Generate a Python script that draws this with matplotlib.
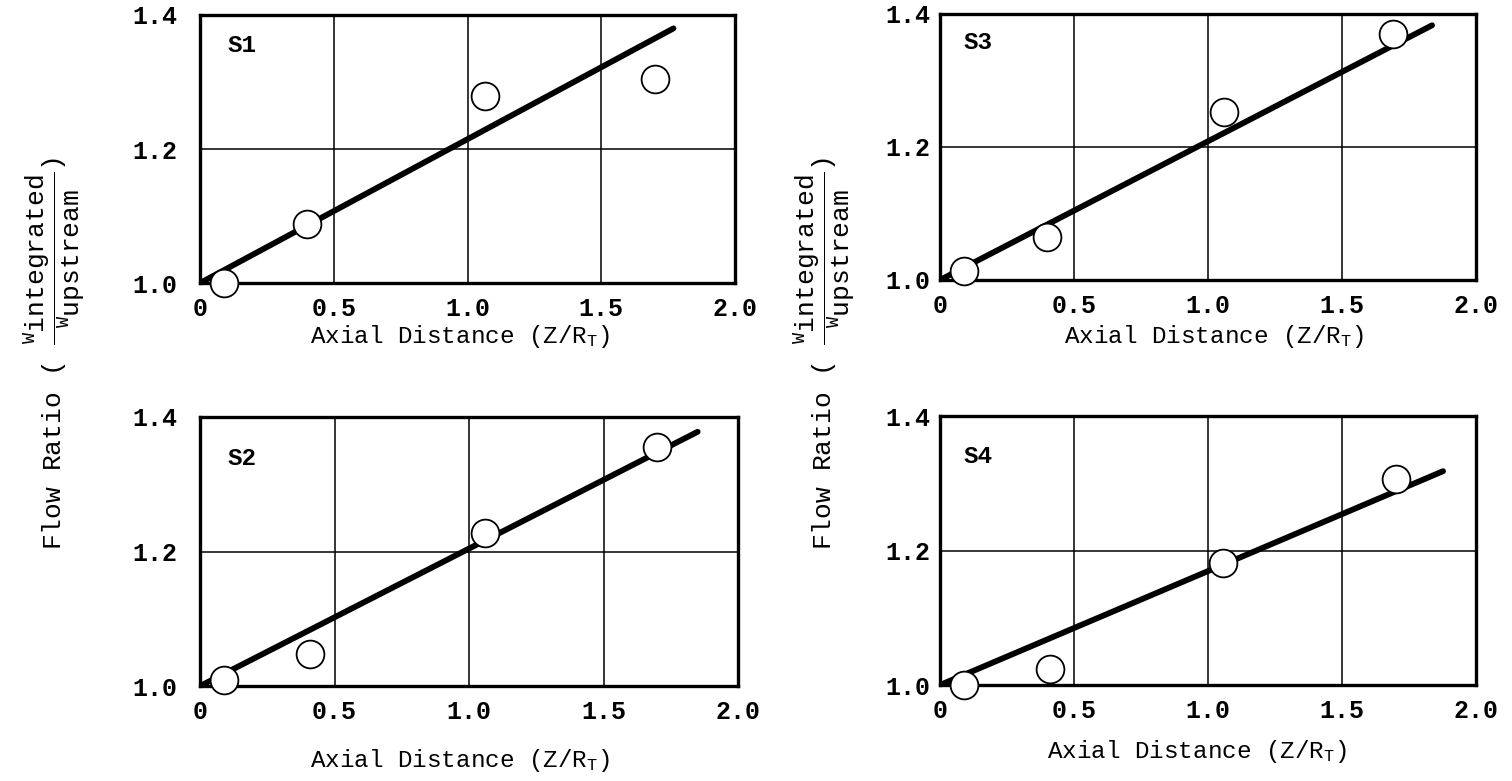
import numpy as np
import matplotlib
matplotlib.use('Agg')
import matplotlib.pyplot as plt

plt.rcParams['font.family'] = ['Liberation Mono', 'DejaVu Sans Mono']
plt.rcParams['mathtext.fontset'] = 'custom'
plt.rcParams['mathtext.rm'] = 'Liberation Mono'
plt.rcParams['mathtext.tt'] = 'Liberation Mono'
plt.rcParams['mathtext.it'] = 'Liberation Mono'

# measured points (axial distance Z/R_T, flow ratio)
names = ['S1', 'S2', 'S3', 'S4']
x_s1 = [0.09, 0.40, 1.065, 1.70]
y_s1 = [1.000, 1.088, 1.279, 1.304]
x_s2 = [0.09, 0.41, 1.06, 1.70]
y_s2 = [1.009, 1.048, 1.228, 1.355]
x_s3 = [0.09, 0.40, 1.06, 1.69]
y_s3 = [1.013, 1.065, 1.253, 1.370]
x_s4 = [0.09, 0.41, 1.056, 1.70]
y_s4 = [1.000, 1.024, 1.181, 1.306]

# fitted straight lines (end points)
fit_x = [[0, 1.77], [0, 1.85], [0, 1.836], [0, 1.877]]
fit_y = [[1.0, 1.38], [1.0, 1.378], [1.0, 1.383], [1.0, 1.318]]

x_ticks = [0, 0.5, 1.0, 1.5, 2.0]
x_ticklabels = ['0', '0.5', '1.0', '1.5', '2.0']
y_ticks = [1.0, 1.2, 1.4]
y_ticklabels = ['1.0', '1.2', '1.4']

xs = [x_s1, x_s2, x_s3, x_s4]
ys = [y_s1, y_s2, y_s3, y_s4]

# axes rectangles in figure fraction
rects = [[0.1323, 0.6376, 0.3538, 0.3432],
         [0.1323, 0.1216, 0.3558, 0.3445],
         [0.6217, 0.6415, 0.3545, 0.3406],
         [0.6217, 0.1229, 0.3545, 0.3444]]
ypads = [16.5, 16.5, 7, 7]
xlab_pos = [(0.486, -0.20), (0.483, -0.275), (0.511, -0.214), (0.48, -0.249)]
name_pos = [(0.052, 0.888), (0.052, 0.844), (0.043, 0.891), (0.043, 0.848)]

fig = plt.figure(figsize=(15.12, 7.81), dpi=100)

for i in range(4):
    ax = fig.add_axes(rects[i])
    ax.set_xlim(0, 2.0)
    ax.set_ylim(1.0, 1.4)
    ax.set_xticks(x_ticks)
    ax.set_xticklabels(x_ticklabels)
    ax.set_yticks(y_ticks)
    ax.set_yticklabels(y_ticklabels)
    ax.tick_params(axis='both', length=0, labelsize=18)
    ax.tick_params(axis='x', pad=10)
    ax.tick_params(axis='y', pad=ypads[i])
    for lab in ax.get_xticklabels() + ax.get_yticklabels():
        lab.set_fontweight('bold')
    ax.grid(True, color='black', linewidth=1.1)
    for sp in ax.spines.values():
        sp.set_linewidth(2.4)
        sp.set_color('black')

    ax.plot(fit_x[i], fit_y[i], color='black', linewidth=4.2,
            solid_capstyle='round', zorder=3)
    ax.plot(xs[i], ys[i], linestyle='none', marker='o', markersize=20,
            markerfacecolor='white', markeredgecolor='black',
            markeredgewidth=1.3, clip_on=False, zorder=4)

    ax.set_xlabel(r'Axial Distance (Z/R$_\mathrm{T}$)', fontsize=17.5)
    ax.xaxis.set_label_coords(*xlab_pos[i])
    ax.xaxis.label.set_verticalalignment('center')
    ax.text(name_pos[i][0], name_pos[i][1], names[i], transform=ax.transAxes,
            fontsize=17.5, fontweight='bold', ha='left', va='center')

ylabel = (r'Flow Ratio ( $\dfrac{{}^{\mathrm{W}}\mathrm{integrated}}'
          r'{{}^{\mathrm{W}}\mathrm{upstream}}$)')
fig.text(0.036, 0.547, ylabel, rotation=90, fontsize=19,
         ha='center', va='center')
fig.text(0.545, 0.547, ylabel, rotation=90, fontsize=19,
         ha='center', va='center')

fig.savefig('out.png', dpi=100)
